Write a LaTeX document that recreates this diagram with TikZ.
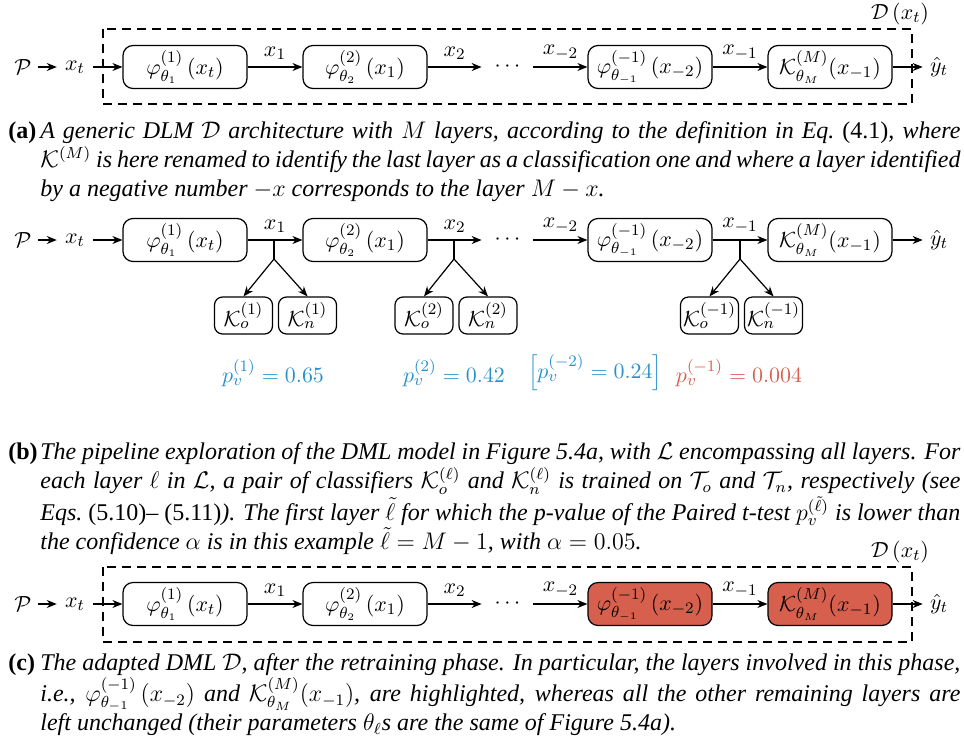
\documentclass[tikz,border=0pt]{standalone}
\usepackage[no-math]{fontspec}
\setmainfont{Liberation Serif}
\usetikzlibrary{arrows.meta}
\definecolor{pblue}{RGB}{40,145,205}
\definecolor{pred}{RGB}{214,96,77}
\begin{document}
\begin{tikzpicture}[x=0.5pt,y=-0.5pt,
 every node/.style={font=\fontsize{11}{13}\selectfont},
 layer/.style={draw, rounded corners=5pt, minimum width=62pt, minimum height=21.5pt, inner sep=0pt, line width=0.6pt},
 clf/.style={draw, rounded corners=4pt, minimum width=29pt, minimum height=18.5pt, inner sep=0pt, line width=0.6pt},
 hl/.style={fill=pred},
 lbl/.style={inner sep=1pt},
 dotsn/.style={inner sep=0pt, minimum width=25.5pt},
 conn/.style={-{Stealth[length=5pt,width=4pt]}, line width=0.6pt},
 pin/.style={conn, shorten <=2pt, shorten >=3pt},
 pout/.style={conn, shorten <=3pt},
 yout/.style={conn, shorten >=2.5pt},
 plain/.style={line width=0.6pt},
 frame/.style={dash pattern=on 4.5pt off 3pt, line width=0.6pt},
 captext/.style={anchor=base west, inner sep=0pt, text width=460pt, align=justify, font=\fontsize{12}{14.7}\selectfont\itshape},
 caplab/.style={anchor=base west, inner sep=0pt, font=\fontsize{12}{14.7}\selectfont\bfseries},
 pval/.style={text=pblue},
 pvalr/.style={text=pred}
]
\useasboundingbox (0,0) rectangle (964,745);

% ---------- (a) ----------
\draw[frame] (103,29) rectangle (912,104);
\node[lbl] (Da) at (900,14) {$\mathcal{D}\left(x_t\right)$};
\node[lbl] (Pa) at (23,67) {$\mathcal{P}$};
\node[lbl] (xa) at (75,67) {$x_t$};
\node[layer] (a1) at (185,67) {$\varphi^{(1)}_{\theta_1}\left(x_t\right)$};
\node[layer] (a2) at (365,67) {$\varphi^{(2)}_{\theta_2}\left(x_1\right)$};
\node[dotsn] (ad) at (507.5,67) {$\cdots$};
\node[layer] (a3) at (650,67) {$\varphi^{(-1)}_{\theta_{-1}}\left(x_{-2}\right)$};
\node[layer] (a4) at (830,67) {$\mathcal{K}^{(M)}_{\theta_M}(x_{-1})$};
\node[lbl] (ya) at (939,67) {$\hat{y}_t$};
\draw[pin] (Pa) -- (xa);
\draw[pout] (xa) -- (a1);
\draw[conn] (a1) -- node[above] {$x_1$} (a2);
\draw[conn] (a2) -- node[above] {$x_2$} (ad);
\draw[conn] (ad) -- node[above] {$x_{-2}$} (a3);
\draw[conn] (a3) -- node[above] {$x_{-1}$} (a4);
\draw[yout] (a4) -- (ya);

\node[caplab] (la) at (8,138) {(a)};
\node[captext] (ca) at (40,138) {A generic DLM $\mathcal{D}$ architecture with $M$ layers, according to the definition in Eq.\ \textup{(4.1)}, where\linebreak
$\mathcal{K}^{(M)}$ is here renamed to identify the last layer as a classification one and where a layer identified\linebreak
by a negative number $-x$ corresponds to the layer $M-x$.};

% ---------- (b) ----------
\node[lbl] (Pb) at (23,240) {$\mathcal{P}$};
\node[lbl] (xb) at (75,240) {$x_t$};
\node[layer] (b1) at (185,240) {$\varphi^{(1)}_{\theta_1}\left(x_t\right)$};
\node[layer] (b2) at (365,240) {$\varphi^{(2)}_{\theta_2}\left(x_1\right)$};
\node[dotsn] (bd) at (507.5,240) {$\cdots$};
\node[layer] (b3) at (650,240) {$\varphi^{(-1)}_{\theta_{-1}}\left(x_{-2}\right)$};
\node[layer] (b4) at (830,240) {$\mathcal{K}^{(M)}_{\theta_M}(x_{-1})$};
\node[lbl] (yb) at (939,240) {$\hat{y}_t$};
\draw[pin] (Pb) -- (xb);
\draw[pout] (xb) -- (b1);
\draw[conn] (b1) -- node[above] {$x_1$} (b2);
\draw[conn] (b2) -- node[above] {$x_2$} (bd);
\draw[conn] (bd) -- node[above] {$x_{-2}$} (b3);
\draw[conn] (b3) -- node[above] {$x_{-1}$} (b4);
\draw[yout] (b4) -- (yb);

\node[clf] (ko1) at (243.5,315.5) {$\mathcal{K}_o^{(1)}$};
\node[clf] (kn1) at (307.5,315.5) {$\mathcal{K}_n^{(1)}$};
\node[clf] (ko2) at (424,315.5) {$\mathcal{K}_o^{(2)}$};
\node[clf] (kn2) at (488,315.5) {$\mathcal{K}_n^{(2)}$};
\node[clf] (ko3) at (709.5,315.5) {$\mathcal{K}_o^{(-1)}$};
\node[clf] (kn3) at (773.5,315.5) {$\mathcal{K}_n^{(-1)}$};

\coordinate (j1) at (274,240); \coordinate (s1) at (274,259);
\coordinate (j2) at (454,240); \coordinate (s2) at (454,259);
\coordinate (j3) at (740,240); \coordinate (s3) at (740,259);
\draw[plain] (j1) -- (s1);
\draw[plain] (j2) -- (s2);
\draw[plain] (j3) -- (s3);
\draw[conn] (s1) -- (ko1.north);
\draw[conn] (s1) -- (kn1.north);
\draw[conn] (s2) -- (ko2.north);
\draw[conn] (s2) -- (kn2.north);
\draw[conn] (s3) -- (ko3.north);
\draw[conn] (s3) -- (kn3.north);

\node[pval] (p1) at (273,373) {$p_v^{(1)}=0.65$};
\node[pval] (p2) at (454,373) {$p_v^{(2)}=0.42$};
\node[pval] (p3) at (595,373) {$\left[p_v^{(-2)}=0.24\right]$};
\node[pvalr] (p4) at (739,373) {$p_v^{(-1)}=0.004$};

\node[caplab] (lb) at (8,459) {(b)};
\node[captext] (cb) at (40,459) {The pipeline exploration of the DML model in Figure 5.4a, with $\mathcal{L}$ encompassing all layers. For\linebreak
each layer $\ell$ in $\mathcal{L}$, a pair of classifiers $\mathcal{K}_o^{(\ell)}$ and $\mathcal{K}_n^{(\ell)}$ is trained on $\mathcal{T}_o$ and $\mathcal{T}_n$, respectively (see\linebreak
Eqs.\ \textup{(5.10)-- (5.11)}). The first layer $\tilde{\ell}$ for which the p-value of the Paired t-test $p_v^{(\tilde{\ell})}$ is lower than\linebreak
the confidence $\alpha$ is in this example $\tilde{\ell}=M-1$, with $\alpha=0.05$.};

% ---------- (c) ----------
\draw[frame] (103,567) rectangle (912,642);
\node[lbl] (Dc) at (900,552) {$\mathcal{D}\left(x_t\right)$};
\node[lbl] (Pc) at (23,604) {$\mathcal{P}$};
\node[lbl] (xc) at (75,604) {$x_t$};
\node[layer] (c1) at (185,604) {$\varphi^{(1)}_{\theta_1}\left(x_t\right)$};
\node[layer] (c2) at (365,604) {$\varphi^{(2)}_{\theta_2}\left(x_1\right)$};
\node[dotsn] (cd) at (507.5,604) {$\cdots$};
\node[layer,hl] (c3) at (650,604) {$\varphi^{(-1)}_{\theta_{-1}}\left(x_{-2}\right)$};
\node[layer,hl] (c4) at (830,604) {$\mathcal{K}^{(M)}_{\theta_M}(x_{-1})$};
\node[lbl] (yc) at (939,604) {$\hat{y}_t$};
\draw[pin] (Pc) -- (xc);
\draw[pout] (xc) -- (c1);
\draw[conn] (c1) -- node[above] {$x_1$} (c2);
\draw[conn] (c2) -- node[above] {$x_2$} (cd);
\draw[conn] (cd) -- node[above] {$x_{-2}$} (c3);
\draw[conn] (c3) -- node[above] {$x_{-1}$} (c4);
\draw[yout] (c4) -- (yc);

\node[caplab] (lc) at (8,670) {(c)};
\node[captext] (cc) at (40,670) {The adapted DML $\mathcal{D}$, after the retraining phase. In particular, the layers involved in this phase,\linebreak
i.e., $\varphi_{\theta_{-1}}^{(-1)}\left(x_{-2}\right)$ and $\mathcal{K}_{\theta_M}^{(M)}(x_{-1})$, are highlighted, whereas all the other remaining layers are\linebreak
left unchanged (their parameters $\theta_\ell$s are the same of Figure 5.4a).};
\end{tikzpicture}
\end{document}
